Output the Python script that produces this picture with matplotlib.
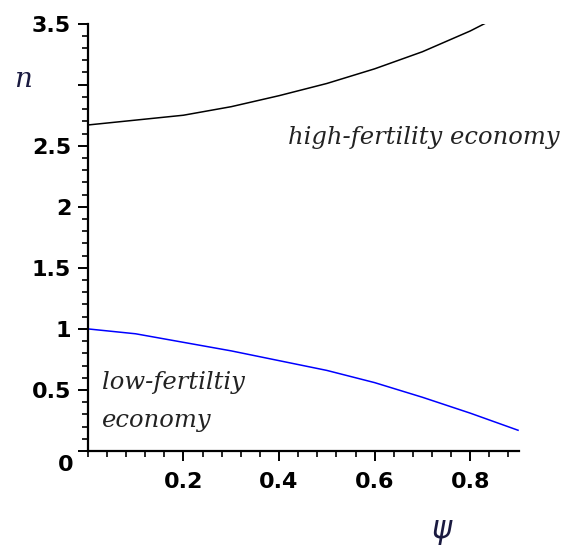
import matplotlib
matplotlib.use('Agg')
import matplotlib.pyplot as plt
import numpy as np
from matplotlib.ticker import MultipleLocator

# values
psi_high = [0.0, 0.1, 0.2, 0.3, 0.4, 0.5, 0.6, 0.7, 0.8, 0.83]
n_high = [2.67, 2.71, 2.75, 2.82, 2.91, 3.01, 3.13, 3.27, 3.44, 3.5]

psi_low = [0.0, 0.1, 0.2, 0.3, 0.4, 0.5, 0.6, 0.7, 0.8, 0.9]
n_low = [1.0, 0.96, 0.89, 0.82, 0.74, 0.66, 0.56, 0.44, 0.31, 0.17]

xticks = [0.2, 0.4, 0.6, 0.8]
yticks = [0, 0.5, 1, 1.5, 2, 2.5, 3, 3.5]
ytick_labels = ['', '0.5', '1', '1.5', '2', '2.5', '', '3.5']

fig = plt.figure(figsize=(5.74, 5.5), dpi=100)
ax = fig.add_axes([0.153, 0.18, 0.752, 0.777])

ax.plot(psi_high, n_high, color='black', lw=1.1)
ax.plot(psi_low, n_low, color='blue', lw=1.1)

ax.set_xlim(0, 0.903)
ax.set_ylim(0, 3.5)
ax.spines['top'].set_visible(False)
ax.spines['right'].set_visible(False)
ax.spines['left'].set_linewidth(1.6)
ax.spines['bottom'].set_linewidth(1.6)

ax.set_xticks(xticks)
ax.set_xticklabels(['0.2', '0.4', '0.6', '0.8'])
ax.set_yticks(yticks)
ax.set_yticklabels(ytick_labels)
ax.xaxis.set_minor_locator(MultipleLocator(0.04))
ax.yaxis.set_minor_locator(MultipleLocator(0.1))
ax.tick_params(which='major', length=7, width=1.4, direction='out', pad=5)
ax.tick_params(which='minor', length=4, width=1.2, direction='out')
for lab in ax.get_xticklabels() + ax.get_yticklabels():
    lab.set_fontweight('bold')
    lab.set_fontsize(16)
    lab.set_fontfamily('DejaVu Sans')
ax.tick_params(axis='x', pad=8)

# the 0 label at the corner
fig.text(0.115, 0.155, '0', fontsize=16, fontweight='bold', ha='center', va='center')

fig.text(0.04, 0.855, 'n', fontsize=20, style='italic', family='DejaVu Serif',
         color='#1a1a40', ha='center', va='center')
fig.text(0.77, 0.031, r'$\psi$', fontsize=22, color='#1a1a40', ha='center', va='center')

ax.text(0.419, 2.57, 'high-fertility economy', fontsize=17.5, style='italic',
        family='DejaVu Serif', color='#222222', ha='left', va='center')
ax.text(0.03, 0.56, 'low-fertiltiy', fontsize=17.5, style='italic',
        family='DejaVu Serif', color='#222222', ha='left', va='center')
ax.text(0.03, 0.25, 'economy', fontsize=17.5, style='italic',
        family='DejaVu Serif', color='#222222', ha='left', va='center')

plt.savefig('out.png', dpi=100)
